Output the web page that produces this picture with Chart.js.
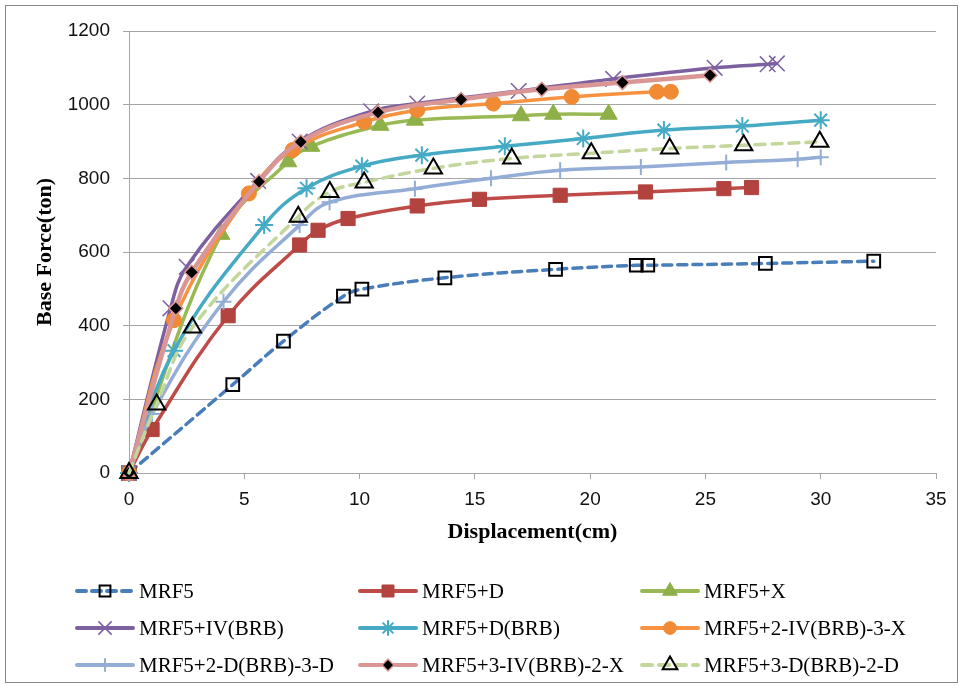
<!DOCTYPE html>
<html>
<head>
<meta charset="utf-8">
<script src="https://cdn.jsdelivr.net/npm/chart.js@4"></script>
<style>
  html, body { margin: 0; padding: 0; background: #ffffff; }
  #wrap { width: 964px; height: 687px; }
</style>
</head>
<body>
<div id="wrap"><canvas id="chart" width="964" height="687"></canvas></div>
<script>
// Pushover curves: displacement (cm) vs base force (ton)
const seriesNames = [
  'MRF5', 'MRF5+D', 'MRF5+X',
  'MRF5+IV(BRB)', 'MRF5+D(BRB)', 'MRF5+2-IV(BRB)-3-X',
  'MRF5+2-D(BRB)-3-D', 'MRF5+3-IV(BRB)-2-X', 'MRF5+3-D(BRB)-2-D'
];

const mrf5Disp  = [0, 4.5, 6.7, 9.3, 10.1, 13.7, 18.5, 22.0, 22.5, 27.6, 32.3];
const mrf5Force = [0, 240, 358, 480, 499, 530, 553, 564, 564, 569, 575];

const mrf5DDisp  = [0, 1.0, 4.3, 7.4, 8.2, 9.5, 12.5, 15.2, 18.7, 22.4, 25.8, 27.0];
const mrf5DForce = [0, 118, 427, 619, 659, 691, 725, 743, 754, 763, 772, 775];

const mrf5XDisp  = [0, 4.0, 6.9, 7.9, 10.9, 12.4, 17.0, 18.4, 20.8];
const mrf5XForce = [0, 648, 845, 887, 944, 958, 970, 974, 974];

const mrf5IvBrbDisp  = [0, 1.8, 2.5, 5.6, 7.4, 10.5, 12.5, 16.9, 21.0, 25.4, 27.7, 28.1];
const mrf5IvBrbForce = [0, 447, 560, 793, 900, 982, 1003, 1037, 1070, 1100, 1110, 1112];

const mrf5DBrbDisp  = [0, 1.95, 5.86, 7.7, 10.1, 12.7, 16.3, 19.7, 23.2, 26.6, 30.0];
const mrf5DBrbForce = [0, 332, 673, 773, 833, 863, 887, 908, 931, 942, 958];

const mrf5Iv3XDisp  = [0, 1.95, 5.2, 7.1, 10.2, 12.5, 15.8, 19.2, 22.9, 23.5];
const mrf5Iv3XForce = [0, 415, 759, 877, 953, 985, 1003, 1021, 1035, 1035];

const mrf5D3DDisp  = [0, 1.0, 4.1, 7.4, 8.7, 12.4, 15.7, 18.7, 22.2, 25.9, 29.0, 30.0];
const mrf5D3DForce = [0, 160, 465, 673, 735, 772, 800, 822, 831, 843, 852, 857];

const mrf5Iv2XDisp  = [0, 2.03, 2.72, 5.64, 7.45, 10.8, 14.4, 17.9, 21.4, 25.2];
const mrf5Iv2XForce = [0, 447, 545, 791, 899, 979, 1014, 1042, 1060, 1080];

const mrf5D2DDisp  = [0, 1.2, 2.75, 7.34, 8.71, 10.2, 13.2, 16.6, 20.05, 23.45, 26.66, 29.96];
const mrf5D2DForce = [0, 186, 395, 696, 763, 789, 827, 854, 868, 881, 890, 899];

const xTickValues = [0, 5, 10, 15, 20, 25, 30, 35];
const yTickValues = [0, 200, 400, 600, 800, 1000, 1200];

const seriesDisp = [mrf5Disp, mrf5DDisp, mrf5XDisp, mrf5IvBrbDisp, mrf5DBrbDisp,
                    mrf5Iv3XDisp, mrf5D3DDisp, mrf5Iv2XDisp, mrf5D2DDisp];
const seriesForce = [mrf5Force, mrf5DForce, mrf5XForce, mrf5IvBrbForce, mrf5DBrbForce,
                     mrf5Iv3XForce, mrf5D3DForce, mrf5Iv2XForce, mrf5D2DForce];

// Line and marker styling per series
const seriesStyles = [
  { line: '#4A7EBB', dash: [9, 6], shape: 'rect',     r: 9,   fill: 'rgba(0,0,0,0)', edge: '#000000', edgeW: 2 },
  { line: '#BE4B48', dash: [],     shape: 'rect',     r: 10,  fill: '#B2433F',       edge: '#B2433F', edgeW: 1 },
  { line: '#98B954', dash: [],     shape: 'triangle', r: 10,  fill: '#8DB048',       edge: '#8DB048', edgeW: 1 },
  { line: '#7D60A0', dash: [],     shape: 'crossRot', r: 11,  fill: '#7D60A0',       edge: '#7D60A0', edgeW: 1.5 },
  { line: '#46AAC5', dash: [],     shape: 'star',     r: 9,   fill: '#46AAC5',       edge: '#46AAC5', edgeW: 2 },
  { line: '#F69240', dash: [],     shape: 'circle',   r: 7.5, fill: '#F08A34',       edge: '#F08A34', edgeW: 1 },
  { line: '#93ADD6', dash: [],     shape: 'cross',    r: 8,   fill: '#93ADD6',       edge: '#93ADD6', edgeW: 2 },
  { line: '#DA9694', dash: [],     shape: 'rectRot',  r: 7,   fill: '#000000',       edge: '#DA9694', edgeW: 1.5 },
  { line: '#C3D69B', dash: [10, 7], shape: 'triangle', r: 10, fill: 'rgba(0,0,0,0)', edge: '#000000', edgeW: 2 }
];

const datasets = seriesNames.map((name, i) => {
  const s = seriesStyles[i];
  return {
    label: name,
    data: seriesDisp[i].map((x, k) => ({ x: x, y: seriesForce[i][k] })),
    borderColor: s.line,
    borderWidth: i === 7 ? 4.5 : 3.5,
    borderDash: s.dash,
    borderCapStyle: 'round',
    tension: 0.4,
    pointStyle: s.shape,
    pointRadius: s.r,
    pointBackgroundColor: s.fill,
    pointBorderColor: s.edge,
    pointBorderWidth: s.edgeW,
    clip: false,
    order: seriesNames.length - 1 - i
  };
});

const gridGray = '#A6A6A6';

// Chart frame and three-column legend under the plot
const framePlugin = {
  id: 'frameAndLegend',
  afterDraw(chart) {
    const ctx = chart.ctx;
    ctx.save();
    ctx.strokeStyle = '#868686';
    ctx.lineWidth = 1;
    ctx.strokeRect(5.5, 5.5, 952, 677);

    const colX = [75, 358, 640];
    const rowY = [591, 628, 665];
    const lineLen = 58;
    ctx.font = '21px "Liberation Serif", "Times New Roman", serif';
    ctx.textBaseline = 'middle';
    ctx.textAlign = 'left';
    seriesNames.forEach((name, i) => {
      const s = seriesStyles[i];
      const x = colX[i % 3];
      const y = rowY[Math.floor(i / 3)];
      ctx.save();
      ctx.strokeStyle = s.line;
      ctx.lineWidth = 4;
      ctx.lineCap = 'round';
      ctx.setLineDash(s.dash);
      ctx.beginPath();
      ctx.moveTo(x + 2, y);
      ctx.lineTo(x + lineLen, y);
      ctx.stroke();
      ctx.restore();

      ctx.save();
      ctx.fillStyle = s.fill;
      ctx.strokeStyle = s.edge;
      ctx.lineWidth = s.edgeW;
      Chart.helpers.drawPoint(ctx, { pointStyle: s.shape, radius: s.r * 0.85, rotation: 0, borderWidth: s.edgeW },
        x + lineLen / 2 + 1, y);
      ctx.restore();

      ctx.fillStyle = '#000000';
      ctx.fillText(name, x + lineLen + 6, y + 1);
    });
    ctx.restore();
  }
};

new Chart(document.getElementById('chart'), {
  type: 'line',
  data: { datasets: datasets },
  plugins: [framePlugin],
  options: {
    responsive: false,
    animation: false,
    devicePixelRatio: 1,
    layout: { padding: { left: 0, right: 28, top: 31, bottom: 0 } },
    plugins: { legend: { display: false }, tooltip: { enabled: false } },
    scales: {
      x: {
        type: 'linear',
        min: 0, max: 35,
        afterBuildTicks(scale) { scale.ticks = xTickValues.map(v => ({ value: v })); },
        afterFit(scale) { scale.height = 214; },
        grid: { color: 'rgba(0,0,0,0)', tickColor: gridGray, tickLength: 6, drawTicks: true },
        border: { display: true, color: gridGray, width: 1 },
        ticks: {
          padding: 9,
          color: '#111111',
          font: { family: '"Liberation Sans", Arial, sans-serif', size: 19 },
          maxRotation: 0,
          callback: v => String(v)
        },
        title: {
          display: true,
          text: 'Displacement(cm)',
          color: '#000000',
          font: { family: '"Liberation Serif", "Times New Roman", serif', size: 22, weight: 'bold' },
          padding: { top: 0, bottom: 141 }
        }
      },
      y: {
        type: 'linear',
        min: 0, max: 1200,
        afterBuildTicks(scale) { scale.ticks = yTickValues.map(v => ({ value: v })); },
        afterFit(scale) { scale.width = 129; },
        grid: { color: gridGray, tickColor: gridGray, tickLength: 6, drawTicks: true, lineWidth: 1 },
        border: { display: true, color: gridGray, width: 1 },
        ticks: {
          padding: 13,
          color: '#111111',
          font: { family: '"Liberation Sans", Arial, sans-serif', size: 19 },
          callback: v => String(v)
        },
        title: {
          display: true,
          text: 'Base Force(ton)',
          color: '#000000',
          font: { family: '"Liberation Serif", "Times New Roman", serif', size: 22, weight: 'bold' },
          padding: { top: 32, bottom: 0 }
        }
      }
    }
  }
});
</script>
</body>
</html>
